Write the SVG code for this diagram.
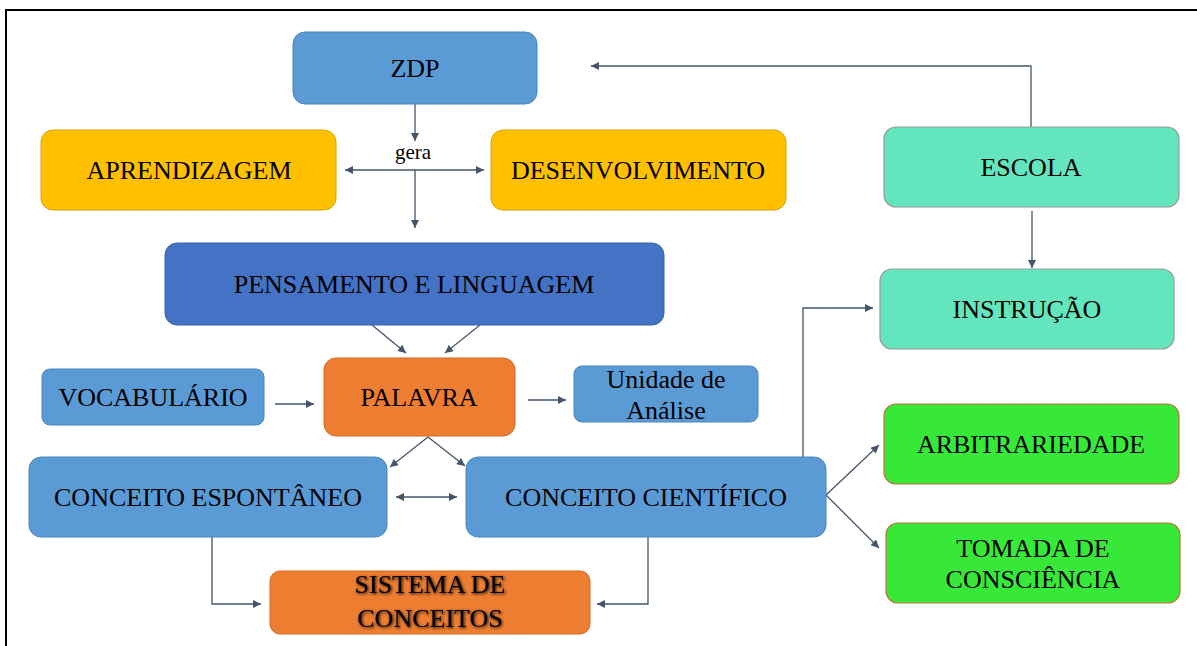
<svg xmlns="http://www.w3.org/2000/svg" width="1197" height="646" viewBox="0 0 1197 646">
<style>
  .t{font-size:26px;fill:#000;text-anchor:middle}
  .g{font-size:21px;fill:#000;text-anchor:middle}
  .c{fill:none;stroke:#44546A;stroke-width:1.3}
  .blue{fill:#5B9BD5;stroke:#4A86BE;stroke-width:1}
  .dblue{fill:#4472C4;stroke:#3A63AD;stroke-width:1}
  .yel{fill:#FFC000;stroke:#D9A400;stroke-width:1}
  .org{fill:#ED7D31;stroke:#D06A25;stroke-width:1}
  .sea{fill:#63E6BE;stroke:#9A9A9A;stroke-width:1.2}
  .grn{fill:#38E838;stroke:#C0703A;stroke-width:1.2}
</style>
<defs>
  <marker id="ah" viewBox="0 0 10 10" refX="10" refY="5" markerWidth="9" markerHeight="8" markerUnits="userSpaceOnUse" orient="auto-start-reverse">
    <path d="M0,0 L10,5 L0,10 Z" fill="#44546A"/>
  </marker>
  <filter id="sh" x="-10%" y="-30%" width="120%" height="160%">
    <feGaussianBlur in="SourceAlpha" stdDeviation="1.5"/>
    <feOffset dx="1" dy="1" result="b"/>
    <feMerge><feMergeNode in="b"/><feMergeNode in="SourceGraphic"/></feMerge>
  </filter>
</defs>
<rect width="1197" height="646" fill="#fff"/>
<path d="M6,646 V10 H1197" fill="none" stroke="#000" stroke-width="2"/>

<g id="connectors">
  <path class="c" d="M415,104 V141" marker-end="url(#ah)"/>
  <path class="c" d="M345,170 H484" marker-start="url(#ah)" marker-end="url(#ah)"/>
  <path class="c" d="M415,170 V228" marker-end="url(#ah)"/>
  <path class="c" d="M1031,127 V66 H591" marker-end="url(#ah)"/>
  <path class="c" d="M1032,211 V268" marker-end="url(#ah)"/>
  <path class="c" d="M803,457 V308 H873" marker-end="url(#ah)"/>
  <path class="c" d="M372,325 L406,353" marker-end="url(#ah)"/>
  <path class="c" d="M480,325 L445,353" marker-end="url(#ah)"/>
  <path class="c" d="M275,404 H314" marker-end="url(#ah)"/>
  <path class="c" d="M528,400 H566" marker-end="url(#ah)"/>
  <path class="c" d="M428,437 L390,467" marker-end="url(#ah)"/>
  <path class="c" d="M428,437 L465,466" marker-end="url(#ah)"/>
  <path class="c" d="M396,497 H457" marker-start="url(#ah)" marker-end="url(#ah)"/>
  <path class="c" d="M212,537 V604 H261" marker-end="url(#ah)"/>
  <path class="c" d="M648,537 V604 H597" marker-end="url(#ah)"/>
  <path class="c" d="M826,495 L879,445" marker-end="url(#ah)"/>
  <path class="c" d="M826,495 L879,548" marker-end="url(#ah)"/>
</g>
<g font-family="Liberation Serif, Times New Roman, serif">
<text class="g" x="413" y="159">gera</text>

<g id="zdp"><rect class="blue" x="293" y="32" width="244" height="72" rx="12"/><text class="t" x="415" y="77">ZDP</text></g>
<g id="aprendizagem"><rect class="yel" x="41" y="130" width="295" height="80" rx="12"/><text class="t" x="189" y="179">APRENDIZAGEM</text></g>
<g id="desenvolvimento"><rect class="yel" x="491" y="130" width="295" height="80" rx="12"/><text class="t" x="638" y="179">DESENVOLVIMENTO</text></g>
<g id="escola"><rect class="sea" x="884" y="127" width="295" height="80" rx="12"/><text class="t" x="1031" y="176">ESCOLA</text></g>
<g id="instrucao"><rect class="sea" x="880" y="269" width="294" height="80" rx="12"/><text class="t" x="1027" y="318">INSTRUÇÃO</text></g>
<g id="pensamento"><rect class="dblue" x="165" y="243" width="499" height="82" rx="12"/><text class="t" x="414" y="293">PENSAMENTO E LINGUAGEM</text></g>
<g id="palavra"><rect class="org" x="324" y="358" width="191" height="78" rx="12"/><text class="t" x="419" y="406">PALAVRA</text></g>
<g id="vocabulario"><rect class="blue" x="42" y="369" width="222" height="56" rx="8"/><text class="t" x="153" y="406">VOCABULÁRIO</text></g>
<g id="unidade"><rect class="blue" x="574" y="366" width="184" height="56" rx="8"/><text class="t" x="666" y="388">Unidade de</text><text class="t" x="666" y="419">Análise</text></g>
<g id="espontaneo"><rect class="blue" x="29" y="457" width="358" height="80" rx="12"/><text class="t" x="208" y="506">CONCEITO ESPONTÂNEO</text></g>
<g id="cientifico"><rect class="blue" x="466" y="457" width="360" height="80" rx="12"/><text class="t" x="646" y="506">CONCEITO CIENTÍFICO</text></g>
<g id="sistema"><rect class="org" x="270" y="571" width="320" height="63" rx="10"/><g filter="url(#sh)"><text class="t" x="430" y="593">SISTEMA DE</text><text class="t" x="430" y="627">CONCEITOS</text></g></g>
<g id="arbitrariedade"><rect class="grn" x="884" y="404" width="295" height="80" rx="12"/><text class="t" x="1031" y="453">ARBITRARIEDADE</text></g>
<g id="tomada"><rect class="grn" x="886" y="523" width="294" height="80" rx="12"/><text class="t" x="1033" y="557">TOMADA DE</text><text class="t" x="1033" y="588">CONSCIÊNCIA</text></g>
</g>
</svg>
